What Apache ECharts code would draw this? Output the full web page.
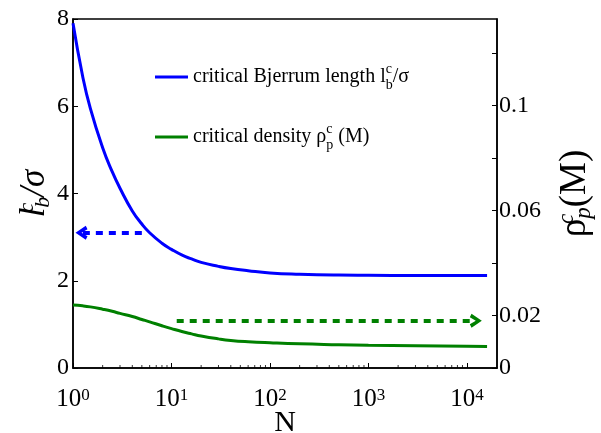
<!DOCTYPE html>
<html>
<head>
<meta charset="utf-8">
<script src="https://cdn.jsdelivr.net/npm/echarts@6/dist/echarts.min.js"></script>
<style>
  html, body { margin: 0; padding: 0; background: #fff; }
  #container { width: 601px; height: 433px; }
</style>
</head>
<body>
<div id="container"></div>
<script>
// N values (log axis)
var nValues = [1, 1.25, 1.5, 2, 2.5, 3, 4, 5, 6, 8, 10, 13, 16, 20, 30, 40, 60, 100, 200, 500, 1000, 3000, 10000, 16000];
// critical Bjerrum length l_b^c / sigma  (left axis)
var bjerrum = [7.9, 6.7, 5.95, 5.05, 4.5, 4.12, 3.6, 3.3, 3.1, 2.86, 2.72, 2.58, 2.5, 2.42, 2.33, 2.28, 2.23, 2.18, 2.15, 2.13, 2.125, 2.12, 2.12, 2.12];
// critical density rho_p^c (M)  (right axis)
var density = [0.024, 0.0237, 0.0233, 0.0224, 0.0216, 0.0208, 0.0196, 0.0185, 0.0176, 0.0161, 0.015, 0.0138, 0.013, 0.0122, 0.0111, 0.0105, 0.01, 0.0096, 0.0092, 0.0089, 0.0087, 0.0085, 0.0083, 0.0082];
// dashed arrows  [from, to]
var blueArrow = [[5, 3.1], [1.22, 3.1]];
var greenArrow = [[11.3, 0.018], [12300, 0.018]];
// right axis labels that are shown
var rightLabels = [0, 0.02, 0.06, 0.1];
// minor ticks of the log axis
var minorTicks = [2, 3, 4, 5, 6, 7, 8, 9, 20, 30, 40, 50, 60, 70, 80, 90, 200, 300, 400, 500, 600, 700, 800, 900,
    2000, 3000, 4000, 5000, 6000, 7000, 8000, 9000];

var serif = "'Liberation Serif', 'DejaVu Serif', serif";
// open arrow head, pointing up (markLine rotates it along the line)
var chevron = 'path://M0,12 L10,0 L20,12 L15,14 L10,7 L5,14 Z';

function zip(xs, ys) {
    var out = [];
    for (var i = 0; i < xs.length; i++) out.push([xs[i], ys[i]]);
    return out;
}

var dom = document.getElementById("container");
var myChart = echarts.init(dom, null, {renderer: 'canvas'});

var option = {
    animation: false,
    backgroundColor: '#fff',
    grid: {
        left: 73, top: 19, right: 104, bottom: 65,
        outerBoundsMode: 'none', containLabel: false,
        show: true, borderColor: '#000', borderWidth: 1.5
    },
    legend: {
        orient: 'vertical',
        left: 150, top: 57,
        itemWidth: 33, itemHeight: 3, itemGap: 30,
        data: [{name: 'blue', icon: 'rect'}, {name: 'green', icon: 'rect'}],
        formatter: function (name) {
            if (name === 'blue') return 'critical Bjerrum length l{sp|c}{sb|b}/σ';
            return 'critical density ρ{sp|c}{sb|p} (M)';
        },
        textStyle: {
            fontFamily: serif, fontSize: 20, color: '#000', lineHeight: 30,
            rich: {
                sp: {fontFamily: serif, fontSize: 14, color: '#000', verticalAlign: 'top', lineHeight: 16, width: 0},
                sb: {fontFamily: serif, fontSize: 14, color: '#000', verticalAlign: 'bottom', lineHeight: 12}
            }
        }
    },
    xAxis: {
        type: 'log', logBase: 10, min: 1, max: 20180,
        name: 'N', nameLocation: 'middle', nameGap: 40, nameMoveOverlap: false,
        nameTextStyle: {fontFamily: serif, fontSize: 30, color: '#000'},
        axisLine: {lineStyle: {color: '#000', width: 1.5}},
        axisTick: {inside: true, length: 5, lineStyle: {color: '#000'}},
        splitLine: {show: false},
        axisLabel: {
            margin: 19, showMaxLabel: false,
            formatter: function (v) { return '10{s|' + Math.round(Math.log10(v)) + '}'; },
            fontFamily: serif, fontSize: 25, color: '#000',
            rich: {s: {fontFamily: serif, fontSize: 17, color: '#000', verticalAlign: 'top', lineHeight: 16}}
        }
    },
    yAxis: [{
        type: 'value', min: 0, max: 8, interval: 2, position: 'left',
        name: 'l{sp|c}{sb|b}/σ', nameLocation: 'middle', nameRotate: 90, nameGap: 19, nameMoveOverlap: false,
        nameTextStyle: {
            fontFamily: serif, fontSize: 35, fontStyle: 'italic', color: '#000', lineHeight: 38,
            rich: {
                sp: {fontFamily: serif, fontSize: 22, fontStyle: 'italic', color: '#000', verticalAlign: 'top', lineHeight: 20, width: 0},
                sb: {fontFamily: serif, fontSize: 22, fontStyle: 'italic', color: '#000', verticalAlign: 'bottom', lineHeight: 18}
            }
        },
        axisLine: {lineStyle: {color: '#000', width: 1.5}},
        axisTick: {inside: true, length: 5, lineStyle: {color: '#000'}},
        splitLine: {show: false},
        axisLabel: {margin: 4, fontFamily: serif, fontSize: 24, color: '#000'}
    }, {
        type: 'value', min: 0, max: 0.133, interval: 0.02, position: 'right',
        name: 'ρ{sp|c}{sb|p}(M)', nameLocation: 'middle', nameRotate: 90, nameGap: 58, nameMoveOverlap: false,
        nameTextStyle: {
            fontFamily: serif, fontSize: 37, color: '#000', lineHeight: 40,
            rich: {
                sp: {fontFamily: serif, fontSize: 23, fontStyle: 'italic', color: '#000', verticalAlign: 'top', lineHeight: 20, width: 0},
                sb: {fontFamily: serif, fontSize: 23, fontStyle: 'italic', color: '#000', verticalAlign: 'bottom', lineHeight: 18}
            }
        },
        axisLine: {lineStyle: {color: '#000', width: 1.5}},
        axisTick: {inside: true, length: 5, lineStyle: {color: '#000'}},
        splitLine: {show: false},
        axisLabel: {
            margin: 2, showMaxLabel: false, fontFamily: serif, fontSize: 24, color: '#000',
            formatter: function (v) {
                for (var i = 0; i < rightLabels.length; i++) {
                    if (Math.abs(v - rightLabels[i]) < 1e-9) return String(rightLabels[i]);
                }
                return '';
            }
        }
    }],
    series: [{
        name: 'blue', type: 'line', yAxisIndex: 0,
        data: zip(nValues, bjerrum), smooth: true, symbol: 'none',
        lineStyle: {color: '#0000ff', width: 3}, itemStyle: {color: '#0000ff'},
        markLine: {
            silent: true, symbol: ['none', chevron], symbolSize: [14, 12],
            lineStyle: {color: '#0000ff', width: 4, type: [7, 6]},
            label: {show: false},
            data: [[{coord: blueArrow[0]}, {coord: blueArrow[1]}]]
        }
    }, {
        name: 'green', type: 'line', yAxisIndex: 1,
        data: zip(nValues, density), smooth: true, symbol: 'none',
        lineStyle: {color: '#008000', width: 3}, itemStyle: {color: '#008000'},
        markLine: {
            silent: true, symbol: ['none', chevron], symbolSize: [14, 12],
            lineStyle: {color: '#008000', width: 4, type: [7, 6]},
            label: {show: false},
            data: [[{coord: greenArrow[0]}, {coord: greenArrow[1]}]]
        }
    }, {
        name: 'minor', type: 'scatter', yAxisIndex: 0, silent: true,
        data: minorTicks.map(function (n) { return [n, 0]; }),
        symbol: 'rect', symbolSize: [1, 3], symbolOffset: [0, -1.5],
        itemStyle: {color: '#000'}, z: 5
    }]
};

myChart.setOption(option, true);
</script>
</body>
</html>
